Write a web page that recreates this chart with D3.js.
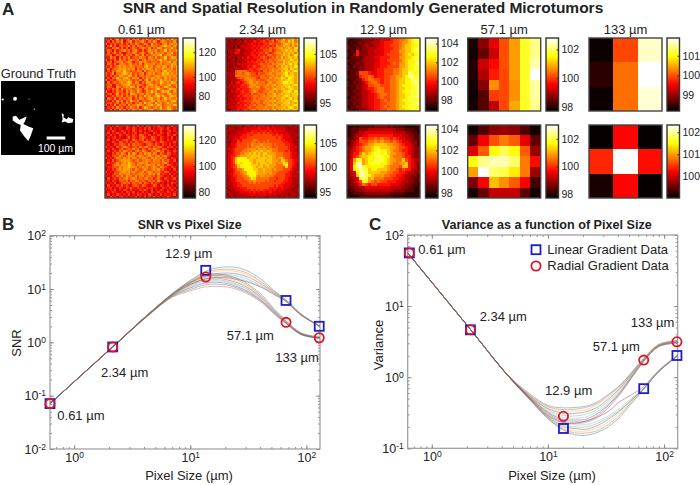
<!DOCTYPE html>
<html><head><meta charset="utf-8">
<script src="https://cdn.jsdelivr.net/npm/d3@7/dist/d3.min.js"></script>
<style>html,body{margin:0;padding:0;background:#fff}svg{display:block}text{font-family:"Liberation Sans",Arial,sans-serif;fill:#222}</style>
</head><body><svg id="c" width="700" height="485"></svg>
<script>
// ---------- data ----------
const panelLabels = ["0.61 µm","2.34 µm","12.9 µm","57.1 µm","133 µm"];
const p061L = [
"76857968 67858796 87978689 78797a88","67586879 57896878 97687986 89878797","85768678 68687986 7986a787 68978a89","57968578 77968698 76879887 89a89798",
"76587968 68578768 9879687a 97888a87","68758678 97868976 86798897 88a79889","58679686 57879868 9768a798 89798a78","77856879 68786987 96878989 a7899878",
"66978586 87967879 88698797 88a78a98","85768697 86898796 89789879 a8978889","67857889 78986879 89878887 9889a798","58769689 87897879 68988978 97898998",
"76867898 98898788 79a89789 89978a89","68578899 98989687 98998798 89898979","57687998 a8878798 69789898 79a89889","86795889 a9897878 96898978 8a9a8989",
"76868799 88a97968 87987899 89989898","67587a88 9a879896 87989989 87989889","86776898 98987879 68a79898 a8989789","58678789 89a97986 87998788 a9898a98",
"77856878 99a88798 76899897 9889a789","68765987 898a9796 87989899 78a98879","57687869 78887898 68978 89a 8878a998".replace(" ",""),"86576878 69798 7a8 6798a897 8a9a8798".replace(" ",""),
"67857968 786a9878 979887a9 8879a888","75686879 68787968 7a89789a 8a879a98","58769687 87896879 8789a889 78a89889","76586979 687a8796 8878a979 889789a8",
"67867868 79786879 7a8987a8 978a8988","85769687 86978 8a9 8789a88a 978898a9".replace(" ",""),"57686978 68798796 8a987898 a78a9878","76858697 86879879 7889a878 9889a878"];
const p061R = [
"56465756 57646575 64765657 56465756","65746565 47657646 57574656 76575465","46576457 65647657 56467565 75467565","57465765 74656746 57654765 76576456",
"65756476 57657658 76575657 65476575","46567565 46857657 87658765 76565746","57465756 78658767 85767865 76475656","65576587 67576876 78876576 87656575",
"56457678 76868787 65787686 57657465","75664867 98767868 78976878 86576756","46576578 67879786 87687987 68765465","57567687 98786897 98768789 78576576",
"65476879 86979868 79897986 87687565","56578798 78998799 87898789 78976456","75657987 98979878 99879898 97865765","46586789 99987897 88987988 79786574",
"57667978 98a98789 98978 888".replace(" ","")+" 78975656","65578989 99a98798 78998979 78687656","56678798 99a99878 98978987 98765765","46576898 99987987 89878989 78656475",
"75657789 98989878 97898788 76875656","56468798 89978789 88798979 67657465","65576879 79887978 97887868 76564756","47567687 89789878 78978678 65765675",
"56476578 78687987 87687869 76574656","65657467 87868778 68768676 56465765","47565768 67657876 87656875 76575646","56746576 57686576 65767565 47657564",
"65657465 76575657 68657465 76465756","46576556 47657465 75647657 56576465","57465765 65746576 56576465 74656574","65756467 56465746 57465756 46576546"];
const p234L = [
"34342434 45454565 66767687 8a899a8a","43433443 54546556 76678678 998a9a89","34243434 45565465 67687787 89a98a9a","33434245 44556566 76767698 8a998a8a",
"43324344 55465657 67687889 a89a98ba","34435643 45456566 77786788 99a9a9a9","24346534 54565667 68767899 8a9a9a8a","43434343 45566576 76887788 9a9a89ba",
"34343445 46556667 87678798 a89aa9a9","33442434 55465676 77787889 9a99ba9a","43434344 46566767 68788798 8a9a9aaa","34243545 55656678 77879889 9a9ab9a9",
"43344345 46567667 87888798 a9a9a9ba","34435444 55766778 78789889 9aa8ba9a","33437888 87676676 88789898 a9aa9aba","44347887 89877687 78898899 9ab9aa9a",
"34438888 88877778 87889898 a9baab9a","43445787 89888768 88798999 ba9bba9a","34443567 88998787 78988989 a9abaa9a","43535656 78998988 87898899 abbaba9a",
"34445567 67899888 88989a89 9aaa9aba","44354566 67998997 89889899 a9abaa9a","34445656 66788887 78989a99 aa9aba9a","43545567 66789877 88899898 9aaba9ba",
"34444566 67687788 87989a89 a9aa9aab","44354656 76778878 98899a99 9aba9aaa","34445565 67678788 88989899 aa9ab9a9","43544566 76778887 89899a89 a9aa9aba",
"34354656 67687887 98989899 9aab9a9a","44445565 76778788 78999a98 a9aa9aba","34544666 67877888 89889899 9a9aba9a","43455656 76788788 98989a89 a9aa9aa9"];
const p234R = [
"43434443 45445455 54545454 44444344","34443444 54555565 55655545 45434443","44344445 55566656 66565655 55444434","43444555 56676676 76766565 54544443",
"44445456 67667777 77776676 65554344","34445566 67777777 77777767 65554443","44455657 77778877 77877777 66555444","43455767 77788787 87877777 76655434",
"44556777 78798889 88887877 77665544","44556777 78788998 98987787 77765454","45567777 88999899 99898887 77765544","44567778 89899a9a 99a98887 77675544",
"45567788 99a9a9a9 aa999988 87776554","45667899 9a9aaaa9 a9aa9988 87776545","4567abbb b9aaa9aa aa9a9989 a8776554","4567abbb bbaa9aaa a9aa9998 aa877655",
"4567abab bbba9a9a aa9a9989 9ba77654","45668abb bbbaaa9a 9aa99988 8ab77654","45677abb bbbba9aa 99a99888 87a77554","45567889 bbbbaa99 a9998988 87776544",
"44567789 9bbbba99 a9998887 77765545","45567788 9bbbba99 99898877 77665444","44566778 89bbb989 98988777 77665454","44556777 889ba888 88877767 77655444",
"44556777 78889888 87877677 76655434","44455677 77878787 77777777 66555444","44455667 77777777 77777676 65554443","34445566 67777777 77766665 65544434",
"43444555 66676767 66665655 55444344","44344455 55656565 65565545 44444434","34434444 45555455 55454544 44434443","43443444 44444544 44444443 43443434"];
const p129L = [
"21222333 34455567 7889abcc","12123233 44456667 7899abcc","21222343 34456677 789aabbc","22132334 44556667 789aabcc",
"12262334 45456677 799aabcc","21363334 44556777 789ababc","12232344 45566677 799aabcc","22223344 44566777 789abbcc",
"12232344 45566678 799abbcd","21323344 45566777 799abbcc","22223344 45667778 89aabbcc","12237776 55667778 89aadcbc",
"22226778 75667788 99abddcc","12233678 87767788 9aabbdcd","21323467 88767788 9aabbcec","22233457 78877788 9abbbccd",
"12233456 67887788 9aabbccd","21323445 67887788 9abbcccd","22233445 56788788 9aabbccd","12323445 56787788 9aabcccd",
"22233445 56678788 9abbcccc","21323445 56677888 9aabbccd","12233445 56678788 9abbcccc","22123344 56677888 9aabbccc"];
const p129R = [
"11212222 23333232 22211111","12223334 44444444 33322211","12234455 55555554 44433221","12344556 66666665 55443322",
"22347667 78787767 65544322","23457778 89898878 76554332","23456789 9aaaa998 87655432","33567899 abbaaa99 87765433",
"34567899 abcbba98 87665433","34668a9a bccbca99 88765433","34679aab bcccbb98 88766433","359bc9ab bcccba99 88a76544",
"35ade9ab cccbba98 899a6543","35bdecbb bbbba988 87aa6543","35bcddca bbaaa988 76766443","345bedca aaa99887 76654433",
"344adecb a9998877 66544332","3345cdc9 a8887776 65543322","23457cb9 87877666 55443322","23346876 77666655 54433221",
"22334455 55555544 44332211","12233344 44444443 33322211","11222233 33333322 22211111","11112222 22222221 11111111"];
const p571L = [
[97.9,98.7,99.4,100.15,100.75,101.7,102.2],[97.85,98.45,99.2,100.15,100.75,101.7,102.2],[97.95,99.2,99.6,100.15,100.75,101.7,102.4],
[97.95,99.0,99.75,100.1,100.75,101.7,102.8],[97.85,98.7,100.66,100.1,100.66,101.7,102.3],[97.8,98.3,100.0,100.1,100.66,101.7,102.3],[97.85,98.3,99.1,100.1,100.85,101.7,102.2]];
const p571R = [
[97.86,98.3,98.76,98.87,98.76,98.3,97.86],[98.5,99.55,100.25,100.6,100.35,99.45,98.44],[99.4,100.35,101.7,102.1,101.7,100.35,98.87],
[101.7,102.36,102.6,102.6,102.2,100.6,99.7],[100.9,103,102.2,102.05,101.5,100.6,98.87],[98.65,99.6,101.15,100.77,100.35,99.6,98.2],[97.86,98.5,99.2,99.2,99.2,98.4,97.86]];
const p133L = [[98.27,99.94,101.7],[98.42,100.16,101.9],[98.27,100.16,101.75]];
const p133R = [[99.03,100.23,99.03],[100.4,102.33,100.27],[99.13,100.23,99.03]];
const cbarDomainsTop = [[65,100,131.7],[93.4,108.2],[96.8,104.6],[97.7,102.8],[98.2,101.9]];
const cbarDomainsBot = [[75.6,131.5],[93.8,108.7],[97.5,104.4],[97.7,103],[99,102.33]];
const cbarTicksTop = [[120,100,80],[105,100,95],[104,102,100,98],[102,100,98],[101,100,99]];
const cbarTicksBot = [[120,100,80],[105,100,95],[104,102,100,98],[102,100,98],[102,101,100]];

const gtMainBlob = [[15.8,48],[20.3,47],[24.8,52.5],[34.7,48],[32.4,54.8],[30.2,58],[36.9,61.5],[43.7,63.8],[40,74.2],[36.9,81],[31,74.2],[25.7,67],[26.6,59.3],[21.2,57],[15.8,53.4]];
const gtSideBlob = [[82,43.4],[85,45.7],[84.2,48.9],[88.7,51.6],[91,48.9],[97.7,51.6],[96.8,56],[91,57],[86.5,54.8],[82,56],[83.3,51.6]];
const gtDots = [[19,24,2.6],[2.3,25,1.5],[38,24.4,0.7],[45,38,0.9]];

const pixelSize = [0.62,2.15,4.5,7,10,13.6,17,21,26,33,42,52,66.8,90,131];
const snrLinear = [
[.071,.83,3.6,8.2,14.5,21.5,25,26,25,20.5,14.5,9.6,6.3,3.4,2.0],
[.071,.83,3.6,8.2,14.2,20.5,23,23.5,22.5,18.5,13,9.2,6.2,3.4,2.0],
[.071,.82,3.6,8.1,13.8,19.5,21.5,22,21,17.5,13,9.0,6.1,3.3,2.0],
[.071,.82,3.6,8,13.2,18,19.5,20,19,16,12,8.7,6.0,3.3,2.0],
[.071,.82,3.6,8,13,17.2,18.5,18.6,17.5,14.5,11.2,8.4,6.0,3.3,2.0],
[.071,.82,3.5,7.9,12.6,16.4,17.5,17.3,16,13.5,10.8,8.2,5.9,3.3,2.0],
[.071,.82,3.5,7.8,12.2,15.5,16.5,16.2,15,13,10.5,8,5.8,3.2,2.0]];
const snrRadial = [
[.071,.83,3.6,8,13.5,18.5,19,18,15.5,11.5,7.5,4.4,2.55,1.5,1.25],
[.071,.83,3.6,7.9,13,17.5,18,17,14.5,10.8,7,4.2,2.5,1.5,1.25],
[.071,.82,3.6,7.8,12.5,16.5,17,15.8,13.5,10.2,6.8,4.1,2.45,1.45,1.23],
[.071,.82,3.5,7.7,12,15.5,16,14.8,12.8,9.8,6.5,4,2.4,1.45,1.22],
[.071,.82,3.5,7.6,11.5,14.6,15,14,12,9.2,6.2,3.9,2.38,1.45,1.22],
[.071,.82,3.5,7.5,11,14,14.3,13.4,11.4,8.8,6,3.8,2.35,1.42,1.2],
[.071,.82,3.5,7.4,10.5,13,13.4,12.6,10.8,8.4,5.8,3.7,2.3,1.42,1.2],
[.071,.82,3.4,7.2,9.8,12,12.3,11.8,10.2,8,5.6,3.6,2.3,1.4,1.2],
[.071,.82,3.4,7.0,9.2,11,11.2,10.9,9.6,7.6,5.4,3.5,2.25,1.4,1.18]];
const varLinear = [
[56,4.7,1.06,.48,.26,.18,.155,.152,.165,.20,.28,.42,.68,1.2,2.0],
[56,4.7,1.06,.48,.265,.185,.165,.163,.175,.215,.30,.44,.68,1.2,2.0],
[56,4.7,1.06,.49,.27,.19,.175,.175,.19,.235,.32,.46,.69,1.2,2.0],
[56,4.7,1.06,.49,.275,.20,.19,.185,.205,.255,.34,.47,.69,1.2,2.0],
[56,4.7,1.06,.49,.28,.21,.20,.20,.22,.27,.35,.48,.70,1.22,2.0],
[56,4.7,1.06,.50,.285,.22,.215,.215,.235,.285,.37,.50,.70,1.22,2.0],
[56,4.7,1.06,.50,.29,.23,.225,.24,.27,.33,.46,.56,.74,1.25,2.05]];
const varRadial = [
[56,4.7,1.08,.58,.40,.37,.375,.39,.44,.57,.78,1.15,1.85,2.9,3.3],
[56,4.7,1.08,.56,.385,.35,.355,.375,.42,.55,.76,1.13,1.82,2.85,3.25],
[56,4.7,1.08,.55,.37,.33,.335,.35,.40,.52,.74,1.1,1.8,2.85,3.2],
[56,4.7,1.07,.54,.36,.31,.31,.325,.37,.49,.71,1.08,1.78,2.8,3.2],
[56,4.7,1.07,.53,.345,.29,.285,.30,.345,.46,.68,1.05,1.75,2.8,3.15],
[56,4.7,1.07,.52,.33,.27,.265,.275,.32,.43,.64,1.02,1.72,2.75,3.15],
[56,4.7,1.07,.52,.32,.255,.25,.255,.30,.41,.62,1.0,1.7,2.75,3.1],
[56,4.7,1.06,.51,.31,.24,.235,.24,.28,.39,.60,.97,1.68,2.7,3.05],
[56,4.7,1.06,.50,.30,.23,.225,.23,.265,.37,.58,.95,1.65,2.7,3.0]];
const markerSizes = [0.62,2.15,13.6,66.8,129];
const snrMarkLinear = [.071,.82,22.4,6.1,2.0];
const snrMarkRadial = [.071,.82,16.8,2.37,1.22];
const varMarkLinear = [56,4.64,.19,.69,2.02];
const varMarkRadial = [56,4.64,.282,1.74,3.15];
const lineColors = ["#0072BD","#D95319","#EDB120","#7E2F8E","#77AC30","#4DBEEE","#A2142F"];

// ---------- layout ----------
const svg = d3.select("#c");
const panelX = [105,226,347,467.7,589], panelW = 73;
const rowY = [38,125];
const cbarX = [183,304,425.5,546,667], cbarW = 12.5;
const hot = d3.scaleLinear().domain([0,.365,.746,1]).range(["#000000","#ff0000","#ffff00","#ffffff"]).clamp(true);

const defs = svg.append("defs");
const grad = defs.append("linearGradient").attr("id","hot").attr("x1",0).attr("x2",0).attr("y1",1).attr("y2",0);
[0,.365,.746,1].forEach(o=>grad.append("stop").attr("offset",o).attr("stop-color",hot(o)));
defs.append("filter").attr("id","soft").attr("x","-5%").attr("y","-5%").attr("width","110%").attr("height","110%")
  .append("feGaussianBlur").attr("stdDeviation",.45);

function title(x,y,s,size,weight,anchor){
  return svg.append("text").attr("x",x).attr("y",y).attr("font-size",size).attr("font-weight",weight||"normal").attr("text-anchor",anchor||"start").text(s);
}
title(363,13,"SNR and Spatial Resolution in Randomly Generated Microtumors",15.5,"bold","middle");
title(2,15,"A",17,"bold"); title(2,230,"B",17,"bold"); title(369,230,"C",17,"bold");

function digits(rows,dom){
  const lo=dom[0],hi=dom[dom.length-1];
  return rows.map(r=>r.replace(/ /g,"").split("").map(c=>lo+parseInt(c,16)/15*(hi-lo)));
}
const gridsTop=[p061L,p234L,p129L,p571L,p133L], gridsBot=[p061R,p234R,p129R,p571R,p133R];

function drawRow(grids,domains,ticks,y0,rowIdx){
  panelLabels.forEach((lab,i)=>{
    const dom=domains[i], lo=dom[0], hi=dom[dom.length-1];
    const m = typeof grids[i][0]==="string" ? digits(grids[i],dom) : grids[i];
    const col = d3.scaleLinear().domain([lo,hi]).range([0,1]);
    const xb = d3.scaleBand().domain(d3.range(m[0].length)).range([panelX[i],panelX[i]+panelW]);
    const yb = d3.scaleBand().domain(d3.range(m.length)).range([y0,y0+panelW]);
    const cid = `clip${rowIdx}${i}`;
    defs.append("clipPath").attr("id",cid).append("rect").attr("x",panelX[i]).attr("y",y0).attr("width",panelW).attr("height",panelW);
    const outer = svg.append("g").attr("clip-path",`url(#${cid})`);
    const g = outer.append("g").attr("shape-rendering","crispEdges").attr("filter",i<3?"url(#soft)":null);
    m.forEach((row,r)=>g.selectAll(null).data(row).enter().append("rect")
      .attr("x",(d,c)=>xb(c)).attr("y",yb(r)).attr("width",xb.bandwidth()+1).attr("height",yb.bandwidth()+1)
      .attr("fill",d=>hot(col(d))));
    svg.append("rect").attr("x",panelX[i]).attr("y",y0).attr("width",panelW).attr("height",panelW)
      .attr("fill","none").attr("stroke","#444").attr("stroke-width",1.4);
    // colour bar
    svg.append("rect").attr("x",cbarX[i]).attr("y",y0).attr("width",cbarW).attr("height",panelW)
      .attr("fill","url(#hot)").attr("stroke","#333").attr("stroke-width",1.4);
    const range = dom.length===3 ? [y0+panelW,y0+panelW*.53,y0] : [y0+panelW,y0];
    const s = d3.scaleLinear().domain(dom).range(range);
    const ax = svg.append("g").attr("transform",`translate(${cbarX[i]+cbarW},0)`)
      .call(d3.axisRight(s).tickValues(ticks[i]).tickSize(-2).tickPadding(3).tickFormat(d3.format("d")));
    ax.select(".domain").remove();
    ax.selectAll("line").attr("stroke","#333");
    ax.selectAll("text").attr("font-size",10.5).attr("font-family","Liberation Sans").attr("fill","#222");
  });
}
drawRow(gridsTop,cbarDomainsTop,cbarTicksTop,rowY[0],0);
drawRow(gridsBot,cbarDomainsBot,cbarTicksBot,rowY[1],1);
panelLabels.forEach((lab,i)=>title(panelX[i]+panelW/2,34,lab,13,"normal","middle"));

// ground truth
const gtX = d3.scaleLinear().domain([0,100]).range([1,75]);
const gtY = d3.scaleLinear().domain([0,100]).range([81,155]);
svg.append("rect").attr("x",gtX(0)).attr("y",gtY(0)).attr("width",gtX(100)-gtX(0)).attr("height",gtY(100)-gtY(0)).attr("fill","#000");
const gtLine = d3.line().x(d=>gtX(d[0])).y(d=>gtY(d[1])).curve(d3.curveLinearClosed);
[gtMainBlob,gtSideBlob].forEach(b=>svg.append("path").attr("d",gtLine(b)).attr("fill","#fff"));
svg.selectAll(null).data(gtDots).enter().append("circle").attr("cx",d=>gtX(d[0])).attr("cy",d=>gtY(d[1])).attr("r",d=>d[2]*.74).attr("fill","#fff");
svg.append("rect").attr("x",gtX(61.7)).attr("y",gtY(75)).attr("width",gtX(86.9)-gtX(61.7)).attr("height",3).attr("fill","#fff");
title(55.5,151.5,"100 µm",10.5,"normal","middle").style("fill","#fff");
title(38.5,77.5,"Ground Truth",12.8,"normal","middle");

// ---------- log plots ----------
function logPlot(o){
  const x=d3.scaleLog().domain([0.62,131]).range([o.l,o.r]);
  const y=d3.scaleLog().domain(o.yDomain).range([o.b,o.t]);
  const g=svg.append("g");
  const minor=[];
  for(let k=-3;k<3;k++)for(let m=1;m<10;m++)minor.push(m*Math.pow(10,k));
  const inX=minor.filter(v=>v>=.62&&v<=131), inY=minor.filter(v=>v>=o.yDomain[0]&&v<=o.yDomain[1]);
  const decades=a=>a.filter(v=>Math.abs(Math.log10(v)-Math.round(Math.log10(v)))<1e-6);
  const styl=a=>{a.select(".domain").remove();a.selectAll("line").attr("stroke","#777").attr("stroke-width",.8);};
  const mk=(axis,scale,vals,size,tr,labels)=>{
    const a=g.append("g").attr("transform",tr).call(axis(scale).tickValues(vals).tickSize(size).tickSizeOuter(0).tickPadding(labels?4:0).tickFormat(labels?(d=>"10"):(()=>"")));
    styl(a);
    if(labels)a.selectAll("text").attr("font-size",12.5).attr("font-family","Liberation Sans").attr("fill","#222").each(function(d){
      d3.select(this).append("tspan").attr("dy","-.45em").attr("font-size",8.5).text(Math.round(Math.log10(d)));
    });
  };
  const tb=`translate(0,${o.b})`,tt=`translate(0,${o.t})`,tl=`translate(${o.l},0)`,tr=`translate(${o.r},0)`;
  mk(d3.axisBottom,x,inX,-2,tb); mk(d3.axisTop,x,inX,-2,tt); mk(d3.axisLeft,y,inY,-2,tl); mk(d3.axisRight,y,inY,-2,tr);
  mk(d3.axisBottom,x,decades(inX),-4,tb,true); mk(d3.axisTop,x,decades(inX),-4,tt);
  mk(d3.axisLeft,y,decades(inY),-4,tl,true); mk(d3.axisRight,y,decades(inY),-4,tr);
  g.append("rect").attr("x",o.l).attr("y",o.t).attr("width",o.r-o.l).attr("height",o.b-o.t).attr("fill","none").attr("stroke","#999").attr("stroke-width",1.2);
  const line=d3.line().x((d,i)=>x(pixelSize[i])).y(d=>y(d)).curve(d3.curveCatmullRom.alpha(.5));
  o.linear.concat(o.radial).forEach((s,i)=>g.append("path").attr("d",line(s)).attr("fill","none")
    .attr("stroke",lineColors[i%lineColors.length]).attr("stroke-width",.7).attr("stroke-opacity",.6));
  const blue="#1c1ccc", red="#dc1428";
  const msx=markerSizes.map((v,i)=>i===0?o.firstX:v);
  g.selectAll(null).data(o.markLinear).enter().append("rect")
    .attr("x",(d,i)=>x(msx[i])-4.5).attr("y",d=>y(d)-4.5).attr("width",9).attr("height",9)
    .attr("fill","none").attr("stroke",blue).attr("stroke-width",1.8);
  g.selectAll(null).data(o.markRadial).enter().append("circle")
    .attr("cx",(d,i)=>x(msx[i])).attr("cy",d=>y(d)).attr("r",4.6)
    .attr("fill","none").attr("stroke",red).attr("stroke-width",1.8);
}
logPlot({l:50,r:320,t:235.7,b:449,yDomain:[.01,100],linear:snrLinear,radial:snrRadial,markLinear:snrMarkLinear,markRadial:snrMarkRadial,firstX:.62});
logPlot({l:407.7,r:677.7,t:235,b:448.3,yDomain:[.1,100],linear:varLinear,radial:varRadial,markLinear:varMarkLinear,markRadial:varMarkRadial,firstX:.64});

title(189.7,229,"SNR vs Pixel Size",12.4,"bold","middle");
title(546.7,229,"Variance as a function of Pixel Size",12.6,"bold","middle");
title(189,480,"Pixel Size (µm)",13,"normal","middle");
title(552,480,"Pixel Size (µm)",13,"normal","middle");
svg.append("text").attr("transform","translate(21,343) rotate(-90)").attr("font-size",13).attr("text-anchor","middle").text("SNR");
svg.append("text").attr("transform","translate(383,345) rotate(-90)").attr("font-size",13).attr("text-anchor","middle").text("Variance");

[[165,258,"12.9 µm"],[226.7,340,"57.1 µm"],[275.3,361.7,"133 µm"],[101,377,"2.34 µm"],[57.3,419.7,"0.61 µm"],
 [418.3,254.3,"0.61 µm"],[479.7,321,"2.34 µm"],[545,395,"12.9 µm"],[592.7,351,"57.1 µm"],[630.7,327.3,"133 µm"]]
 .forEach(a=>title(a[0],a[1],a[2],13));

svg.append("rect").attr("x",531.5).attr("y",245.2).attr("width",9).attr("height",9).attr("fill","none").attr("stroke","#1c1ccc").attr("stroke-width",1.8);
svg.append("circle").attr("cx",536).attr("cy",266).attr("r",4.6).attr("fill","none").attr("stroke","#dc1428").attr("stroke-width",1.8);
title(547.3,254,"Linear Gradient Data",13);
title(547.3,270.3,"Radial Gradient Data",13);
</script></body></html>
